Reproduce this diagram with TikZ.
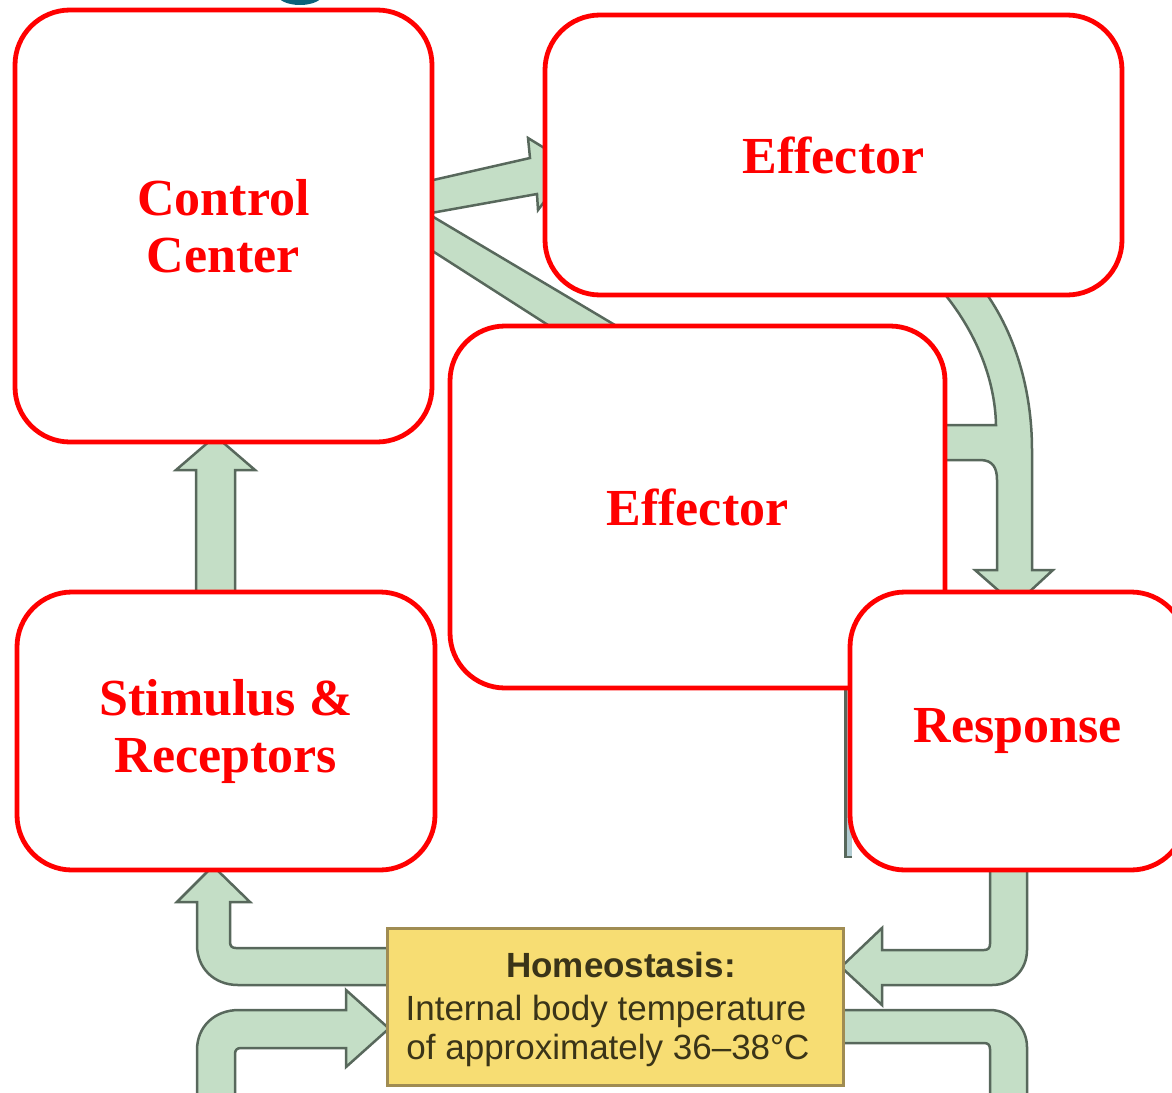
\documentclass[tikz,border=0pt]{standalone}
\usepackage{fontspec}
\setmainfont{Liberation Serif}
\newfontfamily\hsans{Liberation Sans}
\definecolor{boxred}{RGB}{255,0,0}
\definecolor{bandfill}{RGB}{196,222,198}
\definecolor{bandline}{RGB}{88,104,92}
\definecolor{hyellow}{RGB}{247,221,115}
\definecolor{hborder}{RGB}{160,140,82}
\definecolor{htext}{RGB}{58,52,24}
\definecolor{teal}{RGB}{12,98,122}
\definecolor{stripfill}{RGB}{178,204,210}
\begin{document}
\begin{tikzpicture}[x=1pt,y=-1pt,
  box/.style={draw=boxred, line width=4.8pt, fill=white, rounded corners=55pt,
    align=center, text=boxred, font=\fontsize{52}{57}\selectfont\bfseries, inner sep=0pt},
  band/.style={fill=bandfill, draw=bandline, line width=2.5pt, line join=miter},
  htxt/.style={anchor=base, text=htext, font=\hsans\fontsize{35}{40}\selectfont, inner sep=0pt}]
\useasboundingbox (0,0) rectangle (1172,1092);
\begin{scope}
\clip (0,0) rectangle (1172,1092);
% title fragment at top
\fill[teal] (300,-6) ellipse [x radius=23, y radius=11];

% ---- green bands (behind boxes) ----
% stimulus -> control center
\path[band] (196,600) -- (196,470) -- (176,470) -- (215.5,436) -- (255,470) -- (235,470) -- (235,600) -- cycle;
% control center -> top effector
\path[band] (420,183) -- (530,158) -- (528,138) -- (572,165) -- (538,210) -- (537,194) -- (420,215) -- cycle;
% control center -> (hidden) effector
\path[band] (420,209) -- (630,334) -- (562,334) -- (420,243) -- cycle;
% effectors -> response
\path[band] (980,285) .. controls (1015,330) and (1032,390) .. (1032,450)
  -- (1032,570) -- (1053,570) -- (1015,605) -- (975,570) -- (997,570) -- (997,480)
  .. controls (997,468) and (993,460) .. (980,460) -- (935,460) -- (935,425) -- (996,425)
  .. controls (995,378) and (975,328) .. (937,285) -- cycle;
% homeostasis -> stimulus
\path[band] (213,866) -- (250,902) -- (230,902) -- (230,942)
  .. controls (230,946) and (232,948) .. (236,948) -- (395,948) -- (395,985) -- (238,985)
  .. controls (214,985) and (197,968) .. (197,945) -- (197,902) -- (177,902) -- cycle;
% (lower left) -> homeostasis
\path[band] (197,1100) -- (197,1050) .. controls (197,1027) and (214,1010) .. (239,1010)
  -- (346,1010) -- (346,990) -- (389,1028.5) -- (346,1067) -- (346,1048) -- (241,1048)
  .. controls (237,1048) and (235,1050) .. (235,1054) -- (235,1100) -- cycle;
% response -> homeostasis
\path[band] (990,860) -- (990,944) .. controls (990,948) and (988,950) .. (984,950)
  -- (882,950) -- (882,928) -- (841,967) -- (882,1005) -- (882,985) -- (992,985)
  .. controls (1012,985) and (1027,970) .. (1027,950) -- (1027,860) -- cycle;
% homeostasis -> (lower right)
\path[band] (835,1010) -- (990,1010) .. controls (1010,1010) and (1027,1027) .. (1027,1047)
  -- (1027,1100) -- (990,1100) -- (990,1049) .. controls (990,1045) and (988,1043) .. (984,1043)
  -- (835,1043) -- cycle;

% thin strip left of response box
\fill[stripfill] (844,680) rectangle (852,858);
\draw[bandline, line width=2.5pt] (845.5,680) -- (845.5,857) -- (852,857);

% ---- boxes ----
\node[box, minimum width=577pt, minimum height=280pt] (eff1) at (833.5,155) {Effector};
\node[box, minimum width=417pt, minimum height=432pt] (cc) at (223.5,226) {Control\\Center};
\node[box, minimum width=495pt, minimum height=362pt] (eff2) at (697.5,507) {Effector};
\node[box, minimum width=418pt, minimum height=278pt] (sr) at (226,731) {Stimulus \&\\Receptors};
\node[box, minimum width=336pt, minimum height=278pt] (resp) at (1018,731) {Response};

% ---- homeostasis box ----
\node[draw=hborder, fill=hyellow, line width=3pt, minimum width=456pt, minimum height=157pt, inner sep=0pt] (home) at (615,1006.5) {};
\node[htxt, font=\hsans\bfseries\fontsize{35}{40}\selectfont] (h1) at (621,977) {Homeostasis:};
\node[htxt] (h2) at (606,1020) {Internal body temperature};
\node[htxt] (h3) at (608,1059) {of approximately 36–38°C};
\end{scope}
\end{tikzpicture}
\end{document}
